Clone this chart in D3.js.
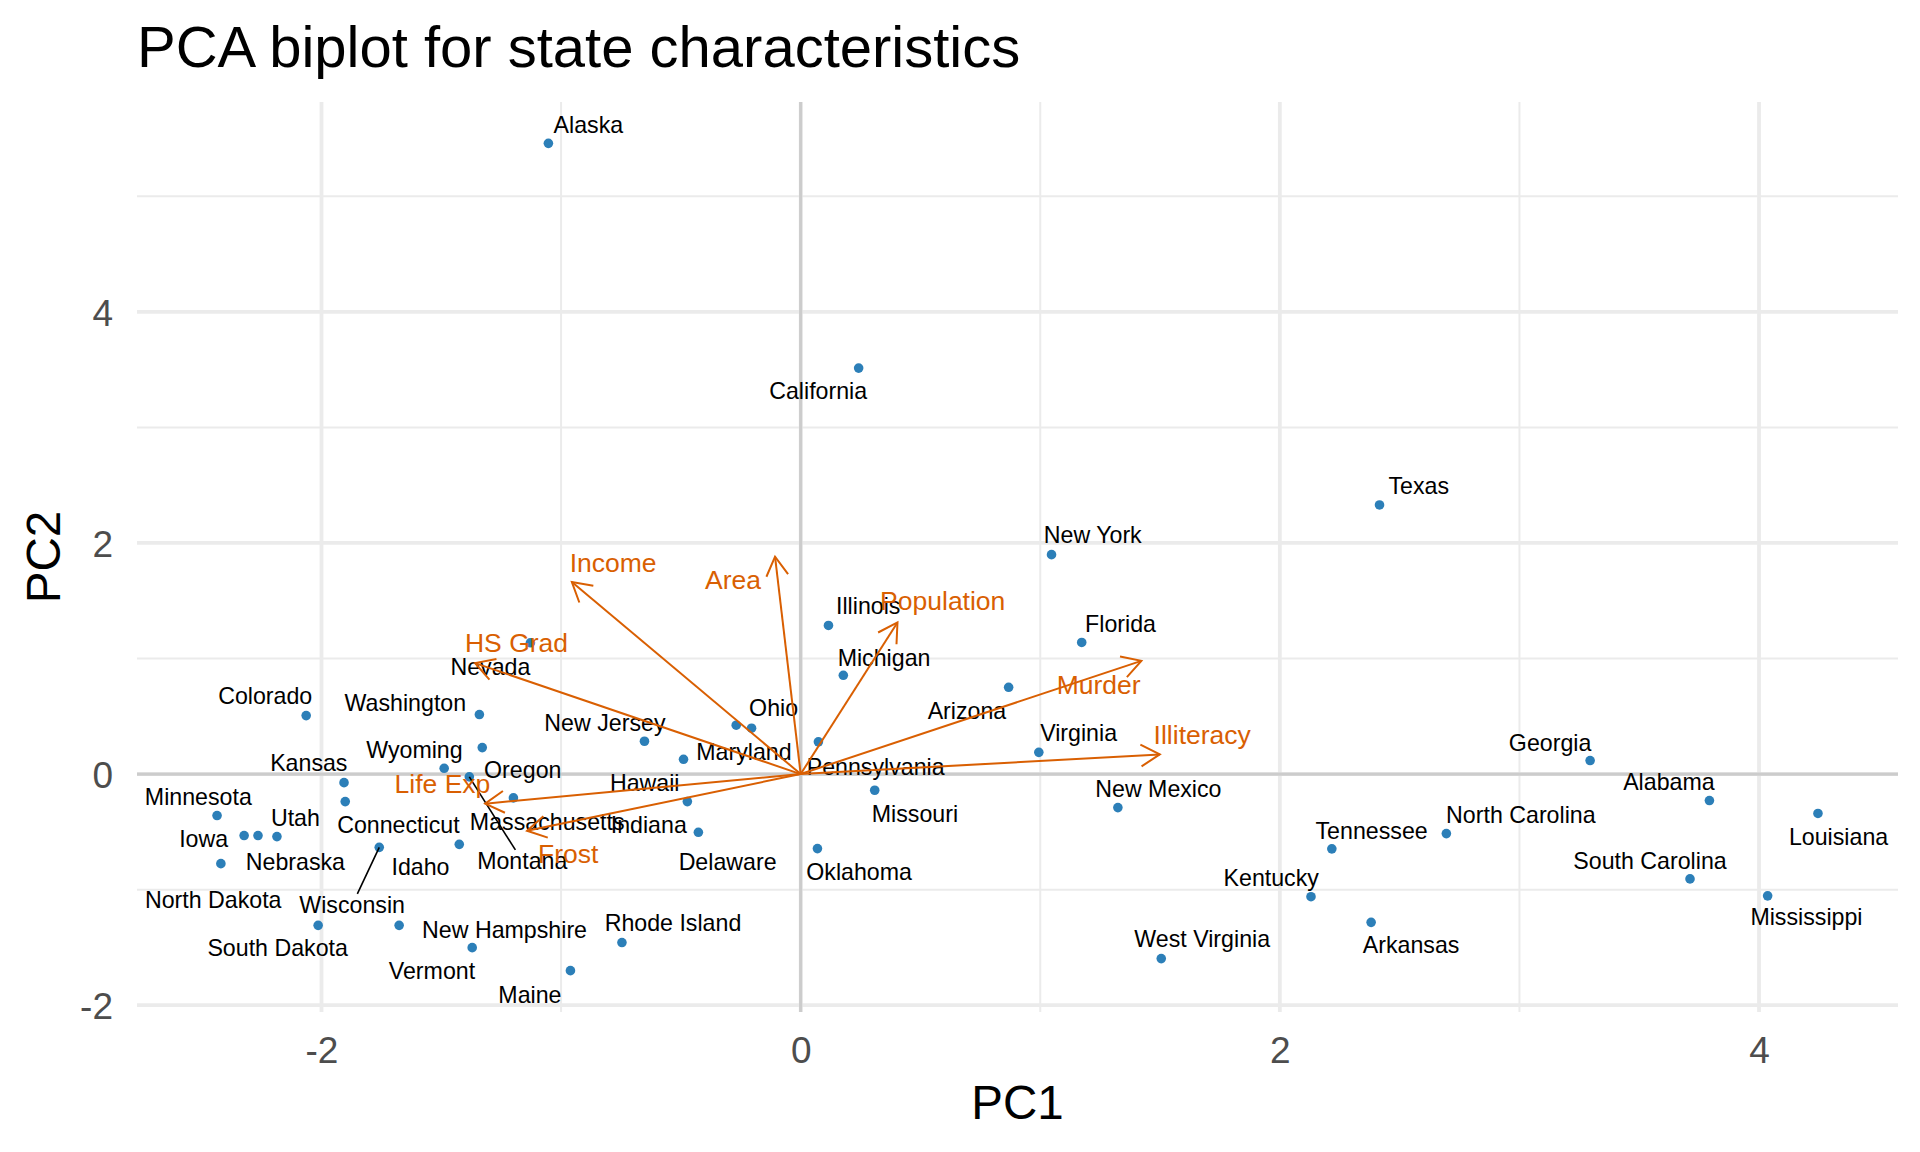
<!DOCTYPE html>
<html>
<head>
<meta charset="utf-8">
<script src="https://cdn.jsdelivr.net/npm/d3@7"></script>
<style>
  body { margin: 0; background: #fff; }
  text { font-family: "Liberation Sans", Arial, sans-serif; }
</style>
</head>
<body>
<div id="chart"></div>
<script>
// 1. Data (PC scores, label spots, loadings arrows)
const states = ["Alabama","Alaska","Arizona","Arkansas","California","Colorado","Connecticut","Delaware","Florida","Georgia",
  "Hawaii","Idaho","Illinois","Indiana","Iowa","Kansas","Kentucky","Louisiana","Maine","Maryland",
  "Massachusetts","Michigan","Minnesota","Mississippi","Missouri","Montana","Nebraska","Nevada","New Hampshire","New Jersey",
  "New Mexico","New York","North Carolina","North Dakota","Ohio","Oklahoma","Oregon","Pennsylvania","Rhode Island","South Carolina",
  "South Dakota","Tennessee","Texas","Utah","Vermont","Virginia","Washington","West Virginia","Wisconsin","Wyoming"];
const pc1 = [3.793,-1.053,0.868,2.381,0.242,-2.064,-1.901,-0.427,1.173,3.295,
  -0.489,-1.425,0.116,-0.473,-2.323,-1.906,2.130,4.246,-0.961,-0.269,
  -1.199,0.178,-2.436,4.036,0.309,-1.383,-2.265,-1.128,-1.676,-0.652,
  1.324,1.047,2.695,-2.420,-0.205,0.070,-1.488,0.074,-0.746,3.712,
  -2.014,2.217,2.416,-2.186,-1.371,0.994,-1.341,1.505,-1.759,-1.329];
const pc2 = [-0.229,5.458,0.751,-1.283,3.513,0.506,-0.238,-0.504,1.139,0.117,
  0.128,-0.608,1.286,-0.238,-0.532,-0.074,-1.061,-0.341,-1.701,0.423,
  -0.206,0.855,-0.359,-1.054,-0.140,-0.024,-0.532,1.136,-1.309,0.284,
  -0.290,1.899,-0.515,-0.775,0.397,-0.645,0.050,0.279,-1.458,-0.907,
  -1.309,-0.647,2.329,-0.541,-1.502,0.188,0.515,-1.597,-0.634,0.229];
// where the repelled labels ended up, in PC units
const labPC1 = [3.624,-0.886,0.694,2.548,0.073,-2.235,-1.679,-0.305,1.335,3.128,
  -0.651,-1.587,0.282,-0.634,-2.492,-2.053,1.964,4.332,-1.130,-0.237,
  -1.058,0.348,-2.514,4.198,0.477,-1.162,-2.109,-1.295,-1.236,-0.817,
  1.493,1.219,3.006,-2.452,-0.113,0.244,-1.160,0.313,-0.533,3.545,
  -2.183,2.383,2.580,-2.109,-1.539,1.160,-1.650,1.676,-1.872,-1.612];
const labPC2 = [-0.068,5.623,0.550,-1.475,3.320,0.674,-0.437,-0.755,1.303,0.275,
  -0.072,-0.798,1.453,-0.435,-0.556,0.097,-0.896,-0.546,-1.906,0.197,
  -0.414,1.011,-0.197,-1.237,-0.342,-0.749,-0.755,0.933,-1.346,0.443,
  -0.123,2.069,-0.349,-1.087,0.576,-0.842,0.039,0.068,-1.288,-0.750,
  -1.505,-0.489,2.496,-0.374,-1.701,0.355,0.622,-1.428,-1.130,0.212];
const segmentStates = ["Montana","Wisconsin"];

const vars = ["Population","Income","Illiteracy","Life Exp","Murder","HS Grad","Frost","Area"];
const tipPC1 = [0.404,-0.955,1.499,-1.317,1.422,-1.359,-1.142,-0.107];
const tipPC2 = [1.312,1.662,0.170,-0.256,0.980,0.960,-0.491,1.881];
const varLabPC1 = [0.593,-0.783,1.676,-1.495,1.244,-1.186,-0.970,-0.282];
const varLabPC2 = [1.502,1.829,0.342,-0.084,0.779,1.140,-0.687,1.688];

const xMajor = [-2, 0, 2, 4], xMinor = [-1, 1, 3];
const yMajor = [-2, 0, 2, 4], yMinor = [-1, 1, 3, 5];

// 2. Layout
const width = 1920, height = 1152;
const margin = { top: 102, right: 22, bottom: 140, left: 137 };
const ptColor = "#2C7FB8", varColor = "#D95F02";

const svg = d3.select("#chart").append("svg")
  .attr("width", width).attr("height", height);

// 3. Scales with ggplot's 5% expansion
function expand(ext) {
  const pad = (ext[1] - ext[0]) * 0.05;
  return [ext[0] - pad, ext[1] + pad];
}
const x = d3.scaleLinear().domain(expand(d3.extent(pc1)))
  .range([margin.left, width - margin.right]);
const y = d3.scaleLinear().domain(expand(d3.extent(pc2)))
  .range([height - margin.bottom, margin.top]);

const [x0, x1] = x.range(), [y0, y1] = [y.range()[1], y.range()[0]];

// 4. Grid
const grid = svg.append("g");
grid.selectAll(".vminor").data(xMinor).enter().append("line")
  .attr("x1", d => x(d)).attr("x2", d => x(d)).attr("y1", y0).attr("y2", y1)
  .attr("stroke", "#EBEBEB").attr("stroke-width", 2);
grid.selectAll(".hminor").data(yMinor).enter().append("line")
  .attr("y1", d => y(d)).attr("y2", d => y(d)).attr("x1", x0).attr("x2", x1)
  .attr("stroke", "#EBEBEB").attr("stroke-width", 2);
grid.selectAll(".vmajor").data(xMajor).enter().append("line")
  .attr("x1", d => x(d)).attr("x2", d => x(d)).attr("y1", y0).attr("y2", y1)
  .attr("stroke", "#EBEBEB").attr("stroke-width", 3.8);
grid.selectAll(".hmajor").data(yMajor).enter().append("line")
  .attr("y1", d => y(d)).attr("y2", d => y(d)).attr("x1", x0).attr("x2", x1)
  .attr("stroke", "#EBEBEB").attr("stroke-width", 3.8);

// zero reference lines
svg.append("line").attr("x1", x0).attr("x2", x1).attr("y1", y(0)).attr("y2", y(0))
  .attr("stroke", "#CCCCCC").attr("stroke-width", 3.2);
svg.append("line").attr("x1", x(0)).attr("x2", x(0)).attr("y1", y0).attr("y2", y1)
  .attr("stroke", "#CCCCCC").attr("stroke-width", 3.2);

// 5. Axes (text only, like theme_minimal); plain hyphen for negatives
const fmt = d => String(d);
const xAxis = svg.append("g")
  .attr("transform", `translate(0,${y1})`)
  .call(d3.axisBottom(x).tickValues(xMajor).tickSize(0).tickPadding(51).tickFormat(fmt));
xAxis.select(".domain").remove();
xAxis.selectAll("text").attr("font-size", 37).attr("fill", "#4D4D4D")
  .attr("font-family", "Liberation Sans, Arial, sans-serif").attr("dy", 0);

const yAxis = svg.append("g")
  .attr("transform", `translate(${x0},0)`)
  .call(d3.axisLeft(y).tickValues(yMajor).tickSize(0).tickPadding(24).tickFormat(fmt));
yAxis.select(".domain").remove();
yAxis.selectAll("text").attr("font-size", 37).attr("fill", "#4D4D4D")
  .attr("font-family", "Liberation Sans, Arial, sans-serif").attr("dy", "0.36em");

// 6. Points
svg.append("g").selectAll("circle")
  .data(states).enter().append("circle")
  .attr("cx", (d, i) => x(pc1[i]))
  .attr("cy", (d, i) => y(pc2[i]))
  .attr("r", 4.8)
  .attr("fill", ptColor);

// 7. State labels (+ repel segments)
const labelG = svg.append("g");
const segG = svg.append("g");
states.forEach((name, i) => {
  const t = labelG.append("text")
    .attr("x", x(labPC1[i])).attr("y", y(labPC2[i]))
    .attr("dy", "0.358em")
    .attr("text-anchor", "middle")
    .attr("font-size", 23.2)
    .attr("fill", "#000")
    .text(name);
  if (segmentStates.includes(name)) {
    const b = t.node().getBBox();
    const px = x(pc1[i]), py = y(pc2[i]);
    const cx = b.x + b.width / 2, cy = b.y + b.height / 2;
    // stop the line where it meets the (padded) label box
    const hw = b.width / 2 + 2, hh = b.height / 2 - 2;
    const dx = cx - px, dy = cy - py;
    const k = Math.max(0, Math.max(
      Math.abs(dx) > hw ? (Math.abs(dx) - hw) / Math.abs(dx) : 0,
      Math.abs(dy) > hh ? (Math.abs(dy) - hh) / Math.abs(dy) : 0));
    segG.append("line")
      .attr("x1", px).attr("y1", py)
      .attr("x2", px + dx * k).attr("y2", py + dy * k)
      .attr("stroke", "#000").attr("stroke-width", 1.6);
  }
});

// 8. Loading arrows
const arrowG = svg.append("g")
  .attr("stroke", varColor).attr("stroke-width", 2).attr("fill", "none");
const headLen = 21.8, headAng = Math.PI / 6;
vars.forEach((v, i) => {
  const sx = x(0), sy = y(0), ex = x(tipPC1[i]), ey = y(tipPC2[i]);
  arrowG.append("line").attr("x1", sx).attr("y1", sy).attr("x2", ex).attr("y2", ey);
  const a = Math.atan2(ey - sy, ex - sx);
  const b1 = [ex - headLen * Math.cos(a - headAng), ey - headLen * Math.sin(a - headAng)];
  const b2 = [ex - headLen * Math.cos(a + headAng), ey - headLen * Math.sin(a + headAng)];
  arrowG.append("path")
    .attr("d", `M${b1[0]},${b1[1]}L${ex},${ey}L${b2[0]},${b2[1]}`)
    .attr("stroke-linejoin", "miter");
});

svg.append("g").selectAll("text")
  .data(vars).enter().append("text")
  .attr("x", (d, i) => x(varLabPC1[i]))
  .attr("y", (d, i) => y(varLabPC2[i]))
  .attr("dy", "0.358em")
  .attr("text-anchor", "middle")
  .attr("font-size", 26.5)
  .attr("fill", varColor)
  .text(d => d);

// 9. Titles
svg.append("text")
  .attr("x", x0).attr("y", 66.5)
  .attr("font-size", 58)
  .attr("fill", "#000")
  .text("PCA biplot for state characteristics");

svg.append("text")
  .attr("x", (x0 + x1) / 2).attr("y", 1119)
  .attr("text-anchor", "middle")
  .attr("font-size", 47.5)
  .attr("fill", "#000")
  .text("PC1");

svg.append("text")
  .attr("transform", `translate(60,${(y0 + y1) / 2}) rotate(-90)`)
  .attr("text-anchor", "middle")
  .attr("font-size", 47.5)
  .attr("fill", "#000")
  .text("PC2");
</script>
</body>
</html>
